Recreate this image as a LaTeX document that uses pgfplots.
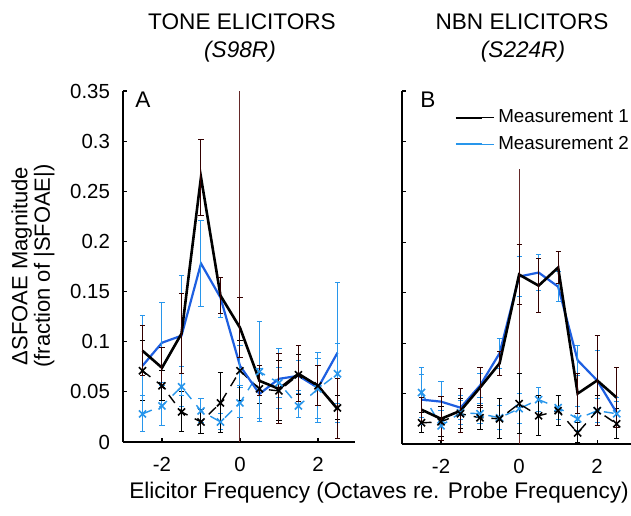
\documentclass[border=0pt]{standalone}
\usepackage{pgfplots}
\usepackage{pgfplotstable}
\usepackage{fontspec}
\setmainfont{Liberation Sans}
\pgfplotsset{compat=1.18}
\definecolor{mblue}{RGB}{30,95,225}
\definecolor{lblue}{RGB}{40,150,235}
\definecolor{refline}{RGB}{100,40,40}

\pgfplotstableread{
x m1 e1 m2 e2 c1 f1 c2 f2
-2.5 0.091 0.025 0.076 0.050 0.071 0.030 0.028 0.018
-2.0 0.074 0.020 0.099 0.040 0.056 0.015 0.036 0.020
-1.5 0.108 0.040 0.106 0.060 0.030 0.020 0.055 0.020
-1.0 0.264 0.038 0.178 0.043 0.020 0.012 0.031 0.012
-0.5 0.146 0.018 0.144 0.020 0.039 0.030 0.020 0.008
0.0 0.114 0.030 0.076 0.020 0.071 0.030 0.039 0.015
0.5 0.061 0.015 0.048 0.025 0.053 0.015 0.070 0.050
1.0 0.053 0.035 0.063 0.030 0.051 0.030 0.059 0.015
1.5 0.068 0.028 0.066 0.015 0.067 0.020 0.036 0.012
2.0 0.056 0.020 0.054 0.035 0.056 0.020 0.053 0.030
2.5 0.033 0.030 0.089 0.070 0.034 0.012 0.068 0.030
}\dataA

\pgfplotstableread{
x m1 e1 m2 e2 c1 f1 c2 f2
-2.5 0.034 0.012 0.044 0.025 0.021 0.010 0.051 0.025
-2.0 0.025 0.022 0.042 0.020 0.022 0.015 0.018 0.015
-1.5 0.033 0.022 0.036 0.012 0.030 0.015 0.031 0.012
-1.0 0.056 0.020 0.058 0.012 0.026 0.012 0.030 0.010
-0.5 0.080 0.012 0.090 0.015 0.025 0.020 0.026 0.012
0.0 0.168 0.030 0.166 0.020 0.040 0.030 0.035 0.015
0.5 0.157 0.027 0.170 0.018 0.028 0.020 0.044 0.012
1.0 0.175 0.016 0.156 0.015 0.033 0.015 0.036 0.012
1.5 0.050 0.020 0.083 0.015 0.011 0.010 0.025 0.012
2.0 0.063 0.045 0.063 0.030 0.033 0.015 0.033 0.012
2.5 0.046 0.030 0.031 0.015 0.020 0.015 0.030 0.012
}\dataB

\pgfplotsset{
  panel/.style={
    scale only axis,
    axis lines*=left,
    axis line style={line width=0.8pt},
    tick align=inside,
    major tick length=2pt,
    tick style={line width=0.6pt, black},
    ymin=0, ymax=0.35,
    xmin=-3,
    xtick={-2,0,2},
    xticklabels={-2,0,2},
    ytick={0,0.05,0.1,0.15,0.2,0.25,0.3,0.35},
    tick label style={font=\fontsize{10.2}{12}\selectfont},
    xticklabel style={yshift=-4pt},
    yticklabel style={xshift=-3pt},
    clip=false,
  },
  ebar/.style={error bars/y dir=both, error bars/y explicit,
    error bars/error bar style={line width=0.5pt, solid, #1},
    error bars/error mark options={rotate=90, mark size=1.3pt, line width=0.5pt, solid, #1}},
  ebar/.default={},
  ctl/.style={dash pattern=on 5pt off 4pt, line width=0.7pt, mark=x, mark size=2.5pt, mark options={solid, line width=0.8pt}},
}

\begin{document}
\begin{tikzpicture}[x=1pt,y=1pt]
\path[use as bounding box] (0,0) rectangle (315.5,257.5);

% Panel A
\begin{axis}[panel, at={(61.5pt,36.5pt)}, anchor=south west,
  width=116pt, height=175.5pt, xmax=2.95,
  yticklabels={0,0.05,0.1,0.15,0.2,0.25,0.3,0.35}]
\addplot[refline, line width=0.5pt, forget plot] coordinates {(0,0) (0,0.35)};
\addplot[lblue, ctl, ebar] table[x=x, y=c2, y error=f2] {\dataA};
\addplot[black, ctl, ebar] table[x=x, y=c1, y error=f1] {\dataA};
\addplot[mblue, line width=1.1pt, mark=none, ebar={lblue}] table[x=x, y=m2, y error=e2] {\dataA};
\addplot[black, line width=1.3pt, mark=none, ebar={black!80!red}] table[x=x, y=m1, y error=e1] {\dataA};
\node[font=\fontsize{11.3}{13}\selectfont] at (rel axis cs:0.086,0.975) {A};
\end{axis}

% Panel B
\begin{axis}[panel, at={(201pt,35.5pt)}, anchor=south west,
  width=114.75pt, height=176.5pt, xmax=2.88,
  yticklabels={},
  legend style={at={(0.22,0.965)}, anchor=north west, draw=none, fill=none,
    font=\fontsize{9.4}{11}\selectfont, row sep=1.2pt, inner sep=1pt},
  legend cell align=left,
  legend image code/.code={\draw[#1, line width=1pt] (0pt,0pt) -- (13pt,0pt); \path (0pt,0pt) -- (19pt,0pt);}]
\addplot[refline, line width=0.5pt, forget plot] coordinates {(0,0) (0,0.273)};
\addplot[lblue, ctl, ebar, forget plot] table[x=x, y=c2, y error=f2] {\dataB};
\addplot[black, ctl, ebar, forget plot] table[x=x, y=c1, y error=f1] {\dataB};
\addplot[mblue, line width=1.1pt, mark=none, ebar={lblue}, forget plot] table[x=x, y=m2, y error=e2] {\dataB};
\addplot[black, line width=1.3pt, mark=none, ebar={black!80!red}, forget plot] table[x=x, y=m1, y error=e1] {\dataB};
\addlegendimage{black}
\addlegendentry{Measurement 1}
\addlegendimage{lblue}
\addlegendentry{Measurement 2}
\node[font=\fontsize{11.3}{13}\selectfont] at (rel axis cs:0.113,0.975) {B};
\end{axis}

% titles
\node[font=\fontsize{11.3}{13}\selectfont] at (121,246.5) {TONE ELICITORS};
\node[font=\fontsize{11.3}{13}\selectfont\itshape] at (120,231.5) {(S98R)};
\node[font=\fontsize{11.3}{13}\selectfont] at (261,246.5) {NBN ELICITORS};
\node[font=\fontsize{11.3}{13}\selectfont\itshape] at (261.5,231.5) {(S224R)};
% axis labels
\node[font=\fontsize{11.3}{13}\selectfont] at (189.5,11) {Elicitor Frequency (Octaves re. Probe Frequency)};
\node[font=\fontsize{11}{9}\selectfont, rotate=90, align=center] at (16.5,124.5) {ΔSFOAE Magnitude\\(fraction of |SFOAE|)};
\end{tikzpicture}
\end{document}
